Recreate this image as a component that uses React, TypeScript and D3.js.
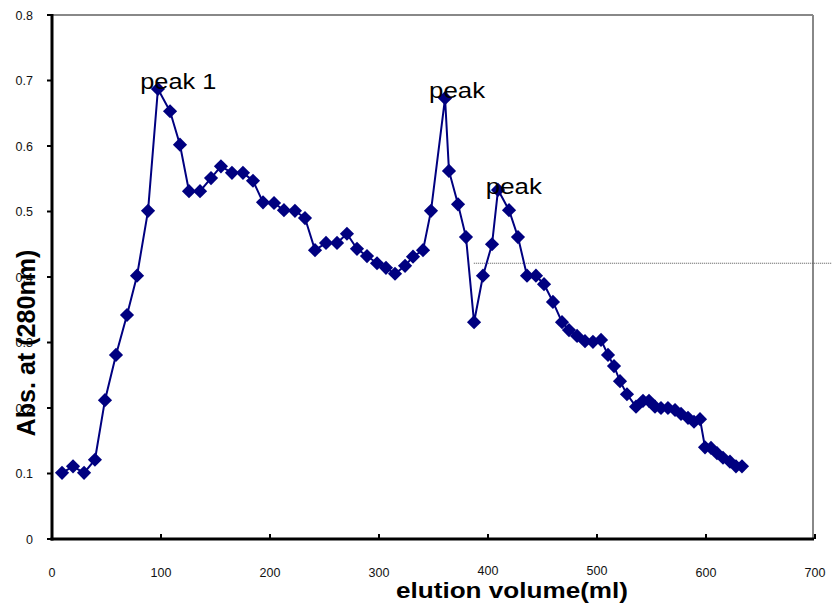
import React from "react";
import * as d3 from "d3";

const volume = [9.2, 19.3, 29.4, 39.4, 48.6, 58.7, 68.8, 78.0, 88.1, 97.2, 108.3, 117.4, 125.7, 135.8, 145.9, 155.0, 165.1, 175.2, 184.4, 193.6, 203.7, 212.8, 222.9, 232.1, 241.3, 251.4, 261.5, 270.6, 279.8, 289.0, 298.2, 306.4, 314.7, 323.9, 331.2, 340.4, 347.7, 360.6, 364.2, 372.5, 379.8, 387.2, 395.4, 403.7, 409.2, 419.3, 427.5, 435.8, 444.0, 451.4, 459.6, 467.9, 474.3, 481.7, 489.0, 496.3, 503.7, 510.1, 515.6, 521.1, 527.5, 535.8, 542.2, 547.7, 553.2, 558.7, 565.1, 571.6, 577.1, 583.5, 589.0, 594.5, 599.1, 604.6, 610.1, 615.6, 622.0, 627.5, 633.0];
const absorbance = [0.101, 0.111, 0.101, 0.121, 0.212, 0.281, 0.342, 0.402, 0.501, 0.687, 0.653, 0.602, 0.531, 0.531, 0.551, 0.569, 0.559, 0.559, 0.547, 0.514, 0.513, 0.502, 0.501, 0.49, 0.441, 0.452, 0.452, 0.466, 0.443, 0.432, 0.421, 0.414, 0.405, 0.417, 0.431, 0.441, 0.501, 0.673, 0.562, 0.511, 0.461, 0.331, 0.402, 0.45, 0.533, 0.502, 0.461, 0.402, 0.402, 0.389, 0.362, 0.331, 0.319, 0.31, 0.302, 0.301, 0.304, 0.281, 0.264, 0.241, 0.221, 0.202, 0.211, 0.211, 0.202, 0.2, 0.2, 0.197, 0.191, 0.185, 0.179, 0.183, 0.14, 0.139, 0.131, 0.124, 0.118, 0.111, 0.111];

const xTicks = [0, 100, 200, 300, 400, 500, 600, 700];
const yTicks = [0, 0.1, 0.2, 0.3, 0.4, 0.5, 0.6, 0.7, 0.8];
const yTickLabels = ["0", "0.1", "0.2", "0.3", "0.4", "0.5", "0.6", "0.7", "0.8"];

const peakLabels = ["peak 1", "peak", "peak"];
const peakX = [81, 346, 398];
const peakY = [0.689, 0.675, 0.529];
const peakWidths = [76, 56, 56];

const refLineY = 0.421;
const refLineX0 = 387;

export default function App() {
  const W = 832, H = 603;
  const left = 52, right = 813, top = 15, bottom = 539;
  const x = d3.scaleLinear().domain([0, 700]).range([left, left + 763]);
  const y = d3.scaleLinear().domain([0, 0.8]).range([bottom, top]);
  const pts: [number, number][] = volume.map((v, i) => [v, absorbance[i]]);
  const line = d3.line<[number, number]>().x(d => x(d[0])).y(d => y(d[1]));
  const diamond = d3.symbol().type(d3.symbolDiamond2).size(128)() as string;
  const font = "'Liberation Sans', Arial, sans-serif";

  return (
    <svg width={W} height={H} style={{ position: "absolute", left: 0, top: 0, background: "#fff" }} fontFamily={font}>
      {/* frame */}
      <line x1={left} x2={right} y1={top} y2={top} stroke="#888" strokeWidth={2} />
      <line x1={right} x2={right} y1={top} y2={bottom} stroke="#888" strokeWidth={2} />
      {/* reference dotted line */}
      <line x1={x(refLineX0)} x2={W} y1={y(refLineY)} y2={y(refLineY)} stroke="#555" strokeWidth={1} strokeDasharray="1,1" />
      {/* axes */}
      <line x1={left} x2={left} y1={top - 1} y2={bottom + 1.5} stroke="#000" strokeWidth={3} />
      <line x1={left - 1.5} x2={right + 1} y1={bottom} y2={bottom} stroke="#000" strokeWidth={3} />
      {yTicks.map((t, i) => (
        <g key={"y" + i}>
          <line x1={left - 5} x2={left} y1={y(t)} y2={y(t)} stroke="#000" strokeWidth={2} />
          <text x={33} y={y(t) + 4.5} textAnchor="end" fontSize={12.5} fill="#111">{yTickLabels[i]}</text>
        </g>
      ))}
      {xTicks.map((t, i) => (
        <g key={"x" + i}>
          {i > 0 && <line x1={x(t)} x2={x(t)} y1={bottom - 5} y2={bottom} stroke="#000" strokeWidth={2} />}
          <text x={x(t)} y={t === 400 || t === 500 ? 575 : 577} textAnchor="middle" fontSize={12.5} fill="#111">{String(t)}</text>
        </g>
      ))}
      {/* series */}
      <path d={line(pts) || ""} fill="none" stroke="#000080" strokeWidth={2} />
      {pts.map((d, i) => (
        <path key={"p" + i} d={diamond} transform={`translate(${x(d[0])},${y(d[1])})`} fill="#000080" />
      ))}
      {/* peak labels */}
      {peakLabels.map((s, i) => (
        <text key={"pk" + i} x={x(peakX[i])} y={y(peakY[i]) + 1} fontSize={22} fill="#000" textLength={peakWidths[i]} lengthAdjust="spacingAndGlyphs">{s}</text>
      ))}
      {/* axis titles */}
      <text x={512} y={598} textAnchor="middle" fontSize={22.5} fontWeight="bold" fill="#000" textLength={232} lengthAdjust="spacingAndGlyphs">elution volume(ml)</text>
      <text transform={`translate(35,343) rotate(-90)`} textAnchor="middle" fontSize={25} fontWeight="bold" fill="#000" textLength={187} lengthAdjust="spacingAndGlyphs">Abs. at (280nm)</text>
    </svg>
  );
}
